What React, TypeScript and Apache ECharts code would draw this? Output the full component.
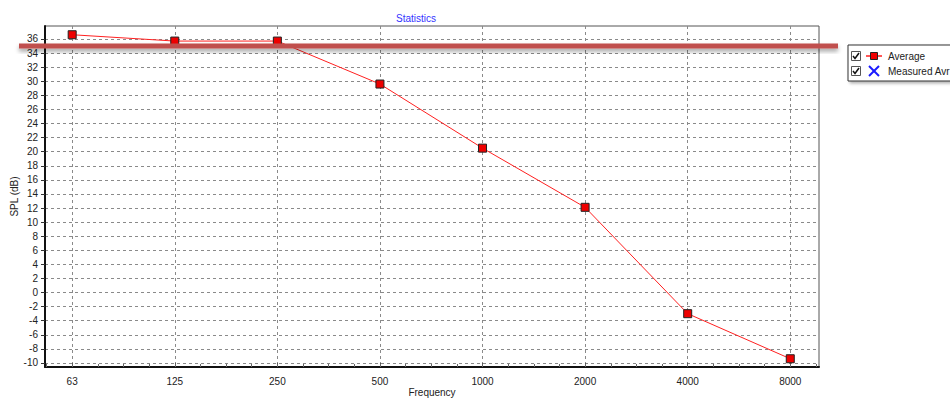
import React, { useEffect, useRef } from "react";
import * as echarts from "echarts";

const frequencies = ["63", "125", "250", "500", "1000", "2000", "4000", "8000"];
const averageSPL = [36.6, 35.7, 35.7, 29.6, 20.5, 12.1, -3.0, -9.4];
const yTickValues = [-10, -8, -6, -4, -2, 0, 2, 4, 6, 8, 10, 12, 14, 16, 18, 20, 22, 24, 26, 28, 30, 32, 34, 36];
const xTickIndices = [0, 1, 2, 3, 4, 5, 6, 7];
const xMinorTicks: number[] = [];
for (let i = -1; i <= 29; i++) xMinorTicks.push(i * 0.25);
const legendNames = ["Average", "Measured Avr"];
const titleText = "Statistics";
const referenceLevel = 35;

const FONT = "'Liberation Sans', Arial, sans-serif";

export default function App() {
  const ref = useRef<HTMLDivElement>(null);
  useEffect(() => {
    if (!ref.current) return;
    const chart = echarts.init(ref.current, null, { renderer: "svg" });
    const gridLeft = 45, gridTop = 26, gridRight = 131, gridBottom = 33;
    const yMin = -10.57, yMax = 37.84;
    const plotH = 400 - gridTop - gridBottom;
    const bandY = gridTop + ((yMax - referenceLevel) / (yMax - yMin)) * plotH;

    chart.setOption({
      animation: false,
      backgroundColor: "#ffffff",
      textStyle: { fontFamily: FONT },
      title: {
        text: titleText,
        left: 391,
        top: 8,
        textStyle: { fontFamily: FONT, fontSize: 10, fontWeight: "normal", color: "#3333ff" },
      },
      grid: {
        left: gridLeft,
        top: gridTop,
        right: gridRight,
        bottom: gridBottom,
        containLabel: false,
        outerBoundsMode: "none",
        show: true,
        borderColor: "#555555",
        borderWidth: 1,
        backgroundColor: "#ffffff",
      },
      xAxis: [
        {
          type: "value",
          min: -0.265,
          max: 7.28,
          name: "Frequency",
          nameLocation: "middle",
          nameGap: 20,
          nameMoveOverlap: false,
          nameTextStyle: { fontFamily: FONT, fontSize: 10, color: "#222" },
          axisLine: { show: true, onZero: false, lineStyle: { color: "#111", width: 2 } },
          axisTick: { show: true, inside: true, length: 4, customValues: xTickIndices, lineStyle: { color: "#555" } },
          axisLabel: {
            customValues: xTickIndices,
            margin: 9,
            fontFamily: FONT,
            fontSize: 10,
            color: "#222",
            formatter: (v: number) => frequencies[Math.round(v)] ?? "",
          },
          splitLine: { show: true, lineStyle: { color: "#8a8a8a", type: [3, 3], width: 1 } },
        },
        {
          type: "value",
          min: -0.265,
          max: 7.28,
          position: "bottom",
          axisLine: { show: false, onZero: false },
          axisTick: { show: true, inside: true, length: 3, customValues: xMinorTicks, lineStyle: { color: "#666" } },
          axisLabel: { show: false },
          splitLine: { show: false },
        },
      ],
      yAxis: {
        type: "value",
        min: yMin,
        max: yMax,
        name: "SPL (dB)",
        nameLocation: "middle",
        nameGap: 26,
        nameMoveOverlap: false,
        nameTextStyle: { fontFamily: FONT, fontSize: 10, color: "#222" },
        axisLine: { show: true, onZero: false, lineStyle: { color: "#111", width: 2 } },
        axisTick: { show: true, length: 4, customValues: yTickValues, lineStyle: { color: "#333" } },
        axisLabel: { customValues: yTickValues, margin: 7, fontFamily: FONT, fontSize: 10, color: "#222" },
        splitLine: { show: true, lineStyle: { color: "#8a8a8a", type: [3, 3], width: 1 } },
      },
      series: [
        {
          name: legendNames[0],
          type: "line",
          xAxisIndex: 0,
          data: averageSPL.map((v, i) => [xTickIndices[i], v]),
          symbol: "rect",
          symbolSize: 8,
          lineStyle: { color: "#ff2020", width: 1 },
          itemStyle: { color: "#ee0000", borderColor: "#222", borderWidth: 1 },
          z: 5,
        },
        {
          name: legendNames[1],
          type: "scatter",
          xAxisIndex: 0,
          data: [],
          symbol: "path://M0,0L10,10M10,0L0,10",
          itemStyle: { color: "#1a1aff" },
        },
      ],
      graphic: [
        {
          type: "rect",
          z: 100,
          shape: { x: 19, y: bandY - 2.5, width: 819, height: 5 },
          style: {
            fill: "#c0504d",
            shadowBlur: 4,
            shadowOffsetY: 3,
            shadowColor: "rgba(0,0,0,0.35)",
          },
        },
        {
          type: "group",
          z: 100,
          children: [
            {
              type: "rect",
              shape: { x: 848, y: 45, width: 120, height: 36 },
              style: {
                fill: "#ffffff",
                stroke: "#333",
                lineWidth: 1,
                shadowBlur: 3,
                shadowOffsetX: 2,
                shadowOffsetY: 2,
                shadowColor: "rgba(0,0,0,0.3)",
              },
            },
            { type: "rect", shape: { x: 851.5, y: 51.5, width: 9, height: 9 }, style: { fill: "#fff", stroke: "#555", lineWidth: 1 } },
            { type: "polyline", shape: { points: [[853, 56], [855, 58.5], [859, 53]] }, style: { stroke: "#111", lineWidth: 1.5, fill: null } },
            { type: "rect", shape: { x: 851.5, y: 66.5, width: 9, height: 9 }, style: { fill: "#fff", stroke: "#555", lineWidth: 1 } },
            { type: "polyline", shape: { points: [[853, 71], [855, 73.5], [859, 68]] }, style: { stroke: "#111", lineWidth: 1.5, fill: null } },
            { type: "line", shape: { x1: 866, y1: 56, x2: 882, y2: 56 }, style: { stroke: "#ff2020", lineWidth: 1.5 } },
            { type: "rect", shape: { x: 870.5, y: 52.5, width: 7, height: 7 }, style: { fill: "#ee0000", stroke: "#222", lineWidth: 1 } },
            { type: "line", shape: { x1: 869, y1: 66, x2: 879, y2: 76 }, style: { stroke: "#1a1aff", lineWidth: 2 } },
            { type: "line", shape: { x1: 879, y1: 66, x2: 869, y2: 76 }, style: { stroke: "#1a1aff", lineWidth: 2 } },
            {
              type: "text",
              x: 888,
              y: 56,
              style: { text: legendNames[0], fontFamily: FONT, fontSize: 10, fill: "#222", verticalAlign: "middle" },
            },
            {
              type: "text",
              x: 888,
              y: 71,
              style: { text: legendNames[1], fontFamily: FONT, fontSize: 10, fill: "#222", verticalAlign: "middle" },
            },
          ],
        },
      ],
    });
    return () => chart.dispose();
  }, []);
  return (
    <div
      ref={ref}
      style={{ position: "fixed", left: 0, top: 0, width: 950, height: 400, overflow: "hidden", background: "#fff" }}
    />
  );
}
